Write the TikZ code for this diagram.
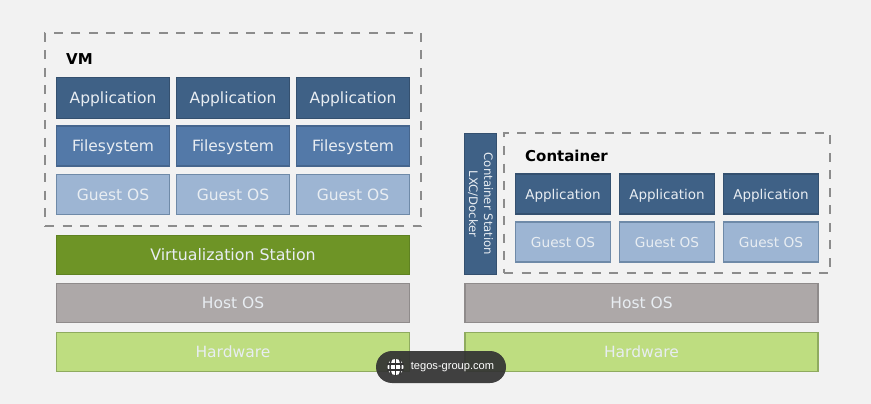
\documentclass[tikz,border=0pt]{standalone}
\usepackage{fontspec}
\setmainfont{DejaVu Sans}
\newfontfamily\pillfont{Liberation Sans}
\usetikzlibrary{shapes.misc}
\definecolor{bgc}{HTML}{F2F2F2}
\definecolor{appc}{HTML}{3F6186}
\definecolor{appd}{HTML}{34506F}
\definecolor{fsc}{HTML}{5379A8}
\definecolor{fsd}{HTML}{46668E}
\definecolor{goc}{HTML}{9DB5D3}
\definecolor{god}{HTML}{6F8AA8}
\definecolor{vsc}{HTML}{6E9426}
\definecolor{vsd}{HTML}{5F8221}
\definecolor{hoc}{HTML}{ADA8A8}
\definecolor{hod}{HTML}{8F8B8B}
\definecolor{hwc}{HTML}{BEDD80}
\definecolor{hwd}{HTML}{8FAB5F}
\definecolor{txtc}{HTML}{E8EDF2}
\definecolor{dashc}{HTML}{8C8C8C}
\definecolor{pillc}{HTML}{333333}
\tikzset{
 x=1pt,y=-1pt,
 sidebox/.style={rectangle,anchor=center,inner sep=0pt,outer sep=0pt,line width=1.2pt,text=txtc},
 blockbox/.style={sidebox,text height=11pt,text depth=0pt,font=\fontsize{15.5}{18}\selectfont},
 appbox/.style={blockbox,fill=appc,draw=appd,minimum width=113pt,minimum height=41pt},
 fsbox/.style={blockbox,fill=fsc,draw=fsd,minimum width=113pt,minimum height=40pt},
 gobox/.style={blockbox,fill=goc,draw=god,minimum width=113pt,minimum height=40pt},
 capp/.style={appbox,minimum width=95pt,minimum height=40pt,font=\fontsize{13.5}{16}\selectfont},
 cgo/.style={gobox,minimum width=95pt,minimum height=40pt,font=\fontsize{13.7}{16}\selectfont},
 vsbox/.style={blockbox,fill=vsc,draw=vsd,minimum width=353pt,minimum height=39pt,font=\fontsize{15.8}{18}\selectfont},
 hobox/.style={blockbox,fill=hoc,draw=hod,minimum width=353pt,minimum height=39pt},
 hwbox/.style={blockbox,fill=hwc,draw=hwd,minimum width=353pt,minimum height=39pt},
 dashbox/.style={rectangle,draw=dashc,line width=2.8pt,dash pattern=on 9pt off 8.5pt,inner sep=0pt,outer sep=0pt},
 title/.style={anchor=west,inner sep=0pt,font=\fontsize{15}{18}\selectfont\bfseries,text=black},
}
\begin{document}
\begin{tikzpicture}
\useasboundingbox (0,0) rectangle (871,404);
\fill[bgc] (0,0) rectangle (871,404);
% VM group
\node[dashbox,minimum width=376pt,minimum height=193pt] (vm) at (233,129.5) {};
\node[title] (vmt) at (66,59) {VM};
\node[appbox] (a1) at (113,98) {Application};
\node[appbox] (a2) at (233,98) {Application};
\node[appbox] (a3) at (353,98) {Application};
\node[fsbox] (f1) at (113,146) {Filesystem};
\node[fsbox] (f2) at (233,146) {Filesystem};
\node[fsbox] (f3) at (353,146) {Filesystem};
\node[gobox] (g1) at (113,194.5) {Guest OS};
\node[gobox] (g2) at (233,194.5) {Guest OS};
\node[gobox] (g3) at (353,194.5) {Guest OS};
\node[vsbox] (vs) at (233,255) {Virtualization Station};
\node[hobox] (h1) at (233,303) {Host OS};
\node[hwbox] (w1) at (233,352) {Hardware};
% Container group
\node[sidebox,fill=appc,draw=appd,rotate=-90,
  minimum width=141pt,minimum height=32pt,align=center,font=\fontsize{11.7}{15}\selectfont] (cs) at (480.5,204) {Container Station\\LXC/Docker};
\node[dashbox,minimum width=326pt,minimum height=140pt] (ct) at (667,203) {};
\node[title] (ctt) at (525,156) {Container};
\node[capp] (ca1) at (563,194) {Application};
\node[capp] (ca2) at (667,194) {Application};
\node[capp] (ca3) at (771,194) {Application};
\node[cgo] (cg1) at (563,242) {Guest OS};
\node[cgo] (cg2) at (667,242) {Guest OS};
\node[cgo] (cg3) at (771,242) {Guest OS};
\node[hobox] (h2) at (641.5,303) {Host OS};
\node[hwbox] (w2) at (641.5,352) {Hardware};
% Source pill
\node[rounded rectangle,fill=pillc,fill opacity=.93,minimum width=130pt,minimum height=32pt,inner sep=0pt] (pill) at (441,367) {};
\node[inner sep=0pt,text=white,font=\pillfont\fontsize{11.1}{14}\selectfont] (pt) at (452.5,367) {tegos-group.com};
\begin{scope}
 \fill[white] (395.5,367) circle (8pt);
 \draw[pillc,line width=1.4pt] (387,364) -- (404,364) (387,370) -- (404,370);
 \draw[pillc,line width=1.4pt] (395.5,358.5) -- (395.5,375.5);
 \draw[pillc,line width=1.4pt] (391.5,359) .. controls (389.5,364) and (389.5,370) .. (391.5,375);
 \draw[pillc,line width=1.4pt] (399.5,359) .. controls (401.5,364) and (401.5,370) .. (399.5,375);
\end{scope}
\end{tikzpicture}
\end{document}
